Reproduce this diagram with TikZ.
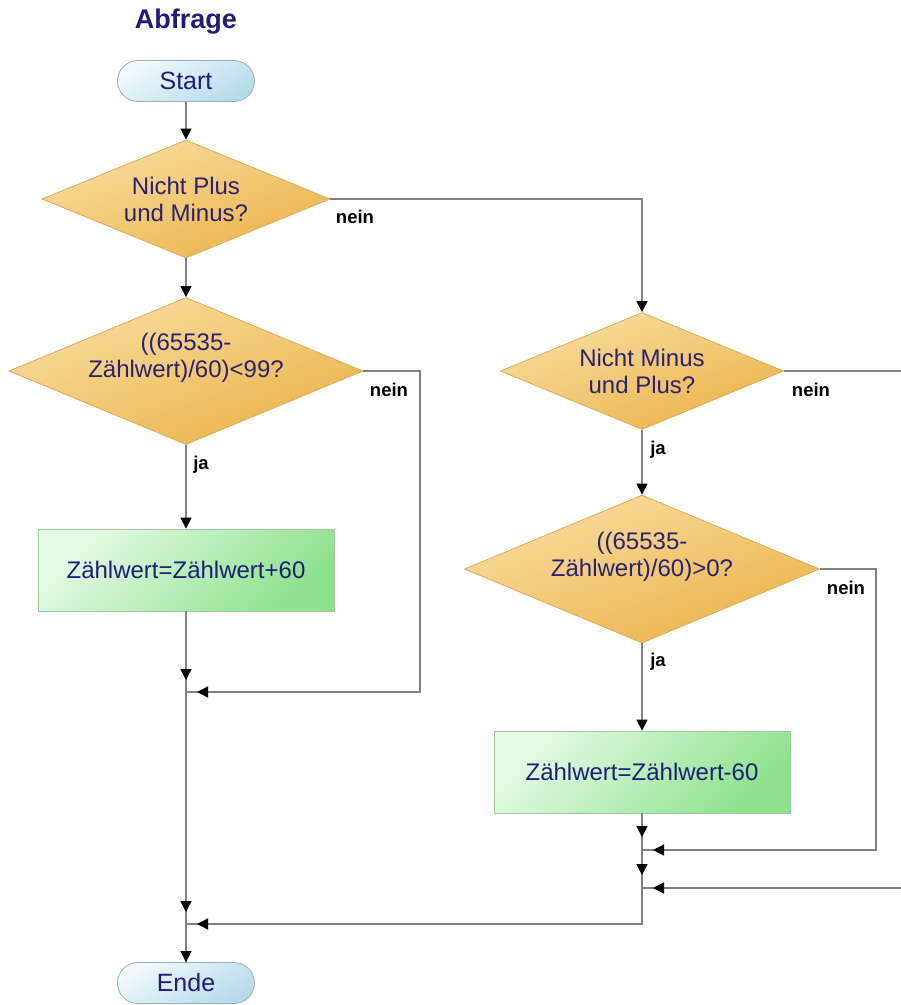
\documentclass[tikz,border=0pt]{standalone}
\usepackage{fontspec}
\setmainfont{Liberation Sans}
\usetikzlibrary{shapes.geometric,arrows.meta,calc,shadows}
\definecolor{navy}{HTML}{1E1E78}
\definecolor{dianavy}{HTML}{2A2270}
\definecolor{linegray}{HTML}{808080}
\definecolor{diaborder}{HTML}{D9AA55}
\definecolor{diatop}{HTML}{F8DDA0}
\definecolor{diabot}{HTML}{EBB34A}
\definecolor{boxborder}{HTML}{A0C8A0}
\definecolor{boxtop}{HTML}{E4FAE4}
\definecolor{boxbot}{HTML}{8EE28E}
\definecolor{termborder}{HTML}{94B2C2}
\definecolor{termtop}{HTML}{F2F9FC}
\definecolor{termbot}{HTML}{B6DAEA}
\tikzset{
  line/.style={draw=linegray, line width=1.3pt},
  arr/.style={line, -{Triangle[length=11pt,width=11pt,color=black]}},
  dia/.style={diamond, draw=diaborder, line width=0.8pt, top color=diatop, bottom color=diabot, shading angle=20, inner sep=0pt},
  procbox/.style={rectangle, draw=boxborder, line width=0.8pt, top color=boxtop, bottom color=boxbot, shading angle=45, minimum width=296pt, minimum height=82pt, text=navy, font=\fontsize{24}{27}\selectfont, drop shadow={shadow xshift=1.2pt, shadow yshift=-1.2pt, opacity=0.35, fill=gray}},
  term/.style={rectangle, rounded corners=20.5pt, draw=termborder, line width=0.8pt, top color=termtop, bottom color=termbot, shading angle=30, minimum width=137pt, minimum height=41pt, text=navy, font=\fontsize{25}{28}\selectfont},
  dtext/.style={align=center, text=dianavy, font=\fontsize{24}{27}\selectfont},
  lab/.style={font=\bfseries\fontsize{18.5}{20}\selectfont, text=black},
}
\begin{document}
\begin{tikzpicture}[x=1pt,y=-1pt]
\useasboundingbox (0,0) rectangle (901,1005);
% title
\node[font=\bfseries\fontsize{27}{30}\selectfont, text=navy] (title) at (186,22) {Abfrage};
% terminals
\node[term] (start) at (186,81) {Start};
\node[term] (ende) at (186,983) {Ende};
% diamonds
\node[dia, minimum width=288pt, minimum height=118pt] (d1) at (186,199) {};
\node[dia, minimum width=354pt, minimum height=147pt] (d2) at (186,371) {};
\node[dia, minimum width=283pt, minimum height=117pt] (d3) at (642,371) {};
\node[dia, minimum width=355pt, minimum height=148pt] (d4) at (642,569) {};
\node[dtext] (d1t) at (d1) {Nicht Plus\\und Minus?};
\node[dtext] (d2t) at ($(d2)+(0,-13)$) {((65535-\\Zählwert)/60)<99?};
\node[dtext] (d3t) at (d3) {Nicht Minus\\und Plus?};
\node[dtext] (d4t) at ($(d4)+(0,-12)$) {((65535-\\Zählwert)/60)>0?};
% process boxes
\node[procbox] (b1) at (186,570) {Zählwert=Zählwert+60};
\node[procbox] (b2) at (642,772) {Zählwert=Zählwert-60};
% junctions and free ends
\coordinate (j1) at (186,692);
\coordinate (j3) at (186,924);
\coordinate (j4) at (642,850);
\coordinate (j5) at (642,888);
\coordinate (r1) at (420,692);
\coordinate (r4) at (876,850);
\coordinate (e1) at (901,371);
\coordinate (e2) at (901,888);
% continuous lines under the arrowheads
\draw[line] (b1) -- (ende);
\draw[line] (d2.east) -| (r1) -- (j1);
\draw[line] (b2) -- (j5) |- (j3);
\draw[line] (d4.east) -| (r4) -- (j4);
\draw[line] (e2) -- (j5);
% connectors left column
\draw[arr] (start) -- (d1);
\draw[arr] (d1) -- (d2);
\draw[arr] (d2) -- (b1);
\draw[arr, shorten >=12pt] (b1) -- (j1);
\draw[arr, shorten >=11pt] (d2.east) -| (r1) -- (j1);
\draw[arr, shorten >=12pt] (j1) -- (j3);
\draw[arr] (j3) -- (ende);
% connectors right column
\draw[arr] (d1.east) -| (d3.north);
\draw[line] (d3.east) -- (e1);
\draw[arr] (d3) -- (d4);
\draw[arr] (d4) -- (b2);
\draw[arr, shorten >=13pt] (b2) -- (j4);
\draw[arr, shorten >=11pt] (d4.east) -| (r4) -- (j4);
\draw[arr, shorten >=13pt] (j4) -- (j5);
\draw[arr, shorten >=11pt] (e2) -- (j5);
\draw[arr, shorten >=11pt] (j5) |- (j3);
% labels
\node[lab] (n1) at (355,217) {nein};
\node[lab] (n2) at (389,390) {nein};
\node[lab] (ja1) at (201,465) {ja};
\node[lab] (n3) at (811,390) {nein};
\node[lab] (ja2) at (658,450) {ja};
\node[lab] (n4) at (846,588) {nein};
\node[lab] (ja3) at (658,662) {ja};
\end{tikzpicture}
\end{document}
